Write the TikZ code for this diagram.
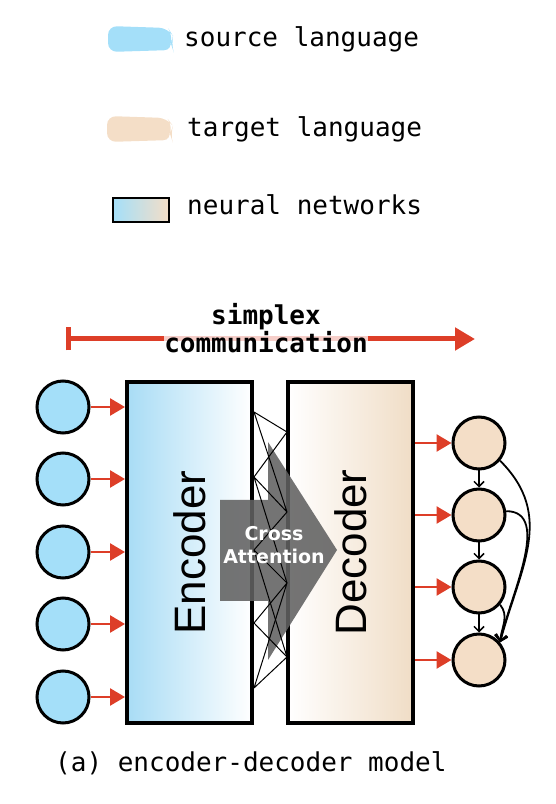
\documentclass[tikz,border=0pt]{standalone}
\usepackage{fontspec}
\setmonofont{DejaVu Sans Mono}
\newfontfamily\blockfont{Liberation Sans}
\newfontfamily\attnfont{DejaVu Sans}
\usepackage{tikz}
\usetikzlibrary{arrows.meta}

\definecolor{srcblue}{RGB}{164,223,249}
\definecolor{tgtpeach}{RGB}{244,222,199}
\definecolor{encblue}{RGB}{168,220,245}
\definecolor{decpeach}{RGB}{240,221,198}
\definecolor{arrowred}{RGB}{221,62,40}

\begin{document}
\begin{tikzpicture}[x=1pt,y=1pt,
  src/.style={circle, draw, line width=3pt, fill=srcblue, minimum size=52pt, inner sep=0pt},
  tgt/.style={circle, draw, line width=3pt, fill=tgtpeach, minimum size=52pt, inner sep=0pt},
  block/.style={draw, line width=4pt, minimum width=125pt, minimum height=341pt, inner sep=0pt,
    font=\blockfont\fontsize{44}{48}\selectfont},
  feed/.style={draw=arrowred, line width=2.6pt, -{Triangle[length=15pt,width=17pt]}},
  chain/.style={line width=1.5pt, -{Straight Barb[length=5pt,width=10pt]}},
  longlink/.style={line width=1.8pt, -{Straight Barb[length=6pt,width=12pt]}},
  legtext/.style={anchor=base west, inner sep=0pt, font=\ttfamily\fontsize{26}{28}\selectfont},
  headtext/.style={anchor=base, inner sep=0pt, font=\ttfamily\bfseries\fontsize{26}{28}\selectfont}]

\useasboundingbox (0,0) rectangle (556,804);

% legend
\fill[srcblue, rounded corners=9pt] (108,752) -- (108,778) -- (168,776) -- (173,768) -- (171,760) -- (173,754) -- cycle;
\node[legtext] (srclab) at (184,757) {source language};
\fill[tgtpeach, rounded corners=9pt] (107,662) -- (107,688) -- (167,686) -- (173,678) -- (170,670) -- (172,664) -- cycle;
\node[legtext] (tgtlab) at (187,667) {target language};
\draw[line width=1.6pt, left color=srcblue, right color=tgtpeach] (113,582) rectangle (169,606);
\node[legtext] (netlab) at (187,589) {neural networks};

% direction
\coordinate (cstart) at (66,465);
\coordinate (cend) at (475,465);
\draw[arrowred, line width=5pt, {Bar[width=23pt]}-{Triangle[length=20pt,width=22pt]}] (cstart) -- (cend);
\node[headtext] (simplex) at (266,479) {simplex};
\node[headtext, fill=white, fill opacity=0.75, text opacity=1] (comm) at (266,451) {communication};

% encoder and decoder
\node[block, left color=encblue, right color=white] (enc) at (189.5,251.5) {\rotatebox{90}{Encoder}};
\node[block, left color=white, right color=decpeach] (dec) at (350.5,251.5) {\rotatebox{90}{Decoder}};

\fill[black!62, fill opacity=0.88] (220,304) -- (268,304) -- (268,362) -- (337,254) -- (268,144) -- (268,203) -- (220,203) -- cycle;

\coordinate (pl1) at (254,392);
\coordinate (pl2) at (254,327);
\coordinate (pl3) at (254,254);
\coordinate (pl4) at (254,181);
\coordinate (pl5) at (254,116);
\coordinate (pr1) at (287,372);
\coordinate (pr2) at (287,292);
\coordinate (pr3) at (287,221);
\coordinate (pr4) at (287,147);
\draw[line width=1pt] (pl1) -- (pr1)   (pl1) -- (pr2)   (pl2) -- (pr1)   (pl2) -- (pr2)   (pl2) -- (pr3) ;
\draw[line width=1pt] (pl3) -- (pr2)   (pl3) -- (pr3)   (pl3) -- (pr4) ;
\draw[line width=1pt] (pl4) -- (pr3)   (pl4) -- (pr4)   (pl5) -- (pr3)   (pl5) -- (pr4) ;

\node[text=white, align=center, font=\attnfont\bfseries\fontsize{19}{23}\selectfont] (attn) at (274,259) {Cross\\Attention};

% source tokens
\node[src] (src1) at (63,397) {};
\node[src] (src2) at (63,325) {};
\node[src] (src3) at (63,252) {};
\node[src] (src4) at (63,180) {};
\node[src] (src5) at (63,107) {};
\draw[feed] (src1.east) -- (src1 -| enc.west) ;
\draw[feed] (src2.east) -- (src2 -| enc.west) ;
\draw[feed] (src3.east) -- (src3 -| enc.west) ;
\draw[feed] (src4.east) -- (src4 -| enc.west) ;
\draw[feed] (src5.east) -- (src5 -| enc.west) ;

% target tokens
\node[tgt] (tgt1) at (479,361) {};
\node[tgt] (tgt2) at (479,289) {};
\node[tgt] (tgt3) at (479,217) {};
\node[tgt] (tgt4) at (479,144) {};
\draw[feed] (tgt1 -| dec.east) -- (tgt1.west) ;
\draw[feed] (tgt2 -| dec.east) -- (tgt2.west) ;
\draw[feed] (tgt3 -| dec.east) -- (tgt3.west) ;
\draw[feed] (tgt4 -| dec.east) -- (tgt4.west) ;

\draw[chain] (tgt1) to (tgt2) ;
\draw[chain] (tgt2) to (tgt3) ;
\draw[chain] (tgt3) to (tgt4) ;
\draw[longlink] (tgt1.-40) to[out=-45, in=75, looseness=1.1] (tgt4.40) ;
\draw[longlink] (tgt2.8) to[out=0, in=78, looseness=0.9] (tgt4.40) ;
\draw[longlink] (tgt3.-40) to[out=-50, in=85] (tgt4.40) ;

% caption
\node[legtext] (caption) at (55,32) {(a) encoder-decoder model};

\end{tikzpicture}
\end{document}
